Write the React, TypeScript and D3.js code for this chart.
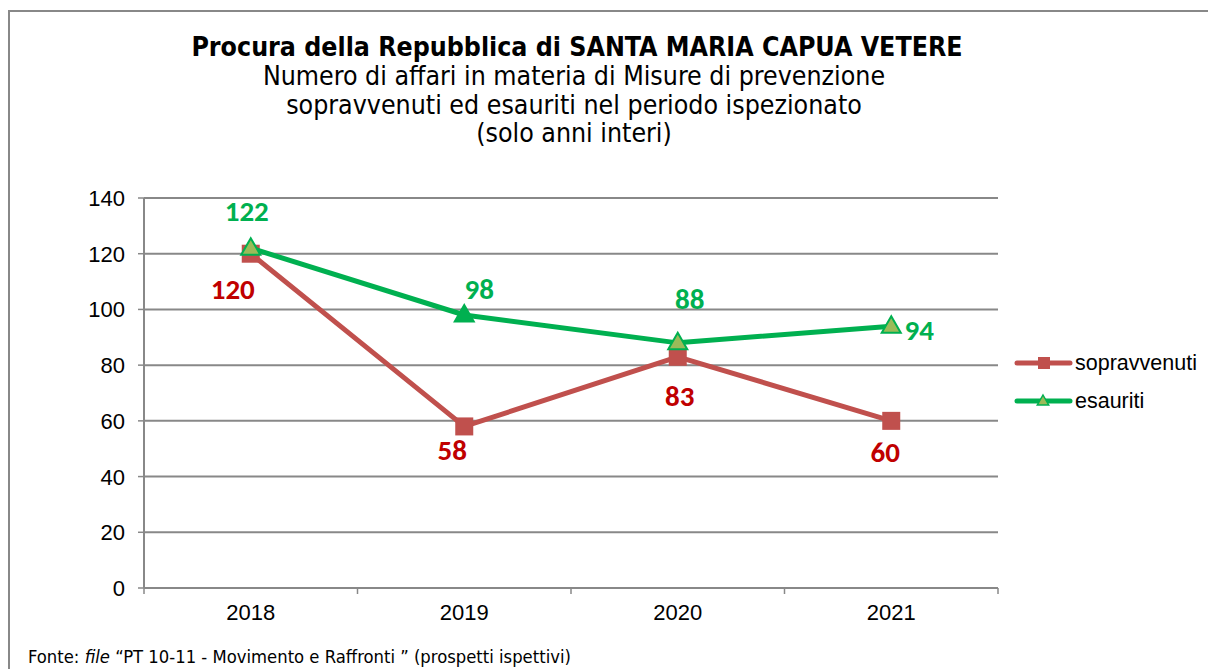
import React from "react";
import * as d3 from "d3";

const years = ["2018", "2019", "2020", "2021"];
const sopravvenuti = [120, 58, 83, 60];
const esauriti = [122, 98, 88, 94];
const yTicks = [0, 20, 40, 60, 80, 100, 120, 140];

const RED = "#C0504D";
const RED_LABEL = "#C00000";
const GREEN = "#00B050";
const OLIVE = "#9BBB59";

// label offsets (dx, dy) relative to the point, per series
const redLabelOff: [number, number][] = [
  [-18, 45],
  [-12, 34],
  [2, 49],
  [-6, 41],
];
const greenLabelOff: [number, number][] = [
  [-4, -27],
  [15, -16],
  [12, -34],
  [28, 14],
];
const greenSolid = [false, true, false, false];

export default function App() {
  const W = 1208;
  const H = 669;
  const x0 = 144;
  const x1 = 998;
  const y = d3.scaleLinear().domain([0, 140]).range([588, 198]);
  const xb = d3.scaleBand().domain(years).range([x0, x1]);
  const cx = (d: string) => (xb(d) as number) + xb.bandwidth() / 2;
  const line = d3
    .line<number>()
    .x((_, i) => cx(years[i]))
    .y((v) => y(v));
  const tri = (px: number, py: number, s: number) =>
    `M${px},${py - s}L${px + s * 0.95},${py + s * 0.65}L${px - s * 0.95},${py + s * 0.65}Z`;

  const font = "'DejaVu Sans Condensed', 'DejaVu Sans', sans-serif";
  const arial = "'Liberation Sans', Arial, sans-serif";
  const labelFont = "Carlito, 'Open Sans', 'Liberation Sans', sans-serif";

  return (
    <svg
      width={W}
      height={H}
      style={{ position: "absolute", left: 0, top: 0 }}
      viewBox={`0 0 ${W} ${H}`}
    >
      <rect x={0} y={0} width={W} height={H} fill="#fff" />
      <line x1={9} y1={11} x2={W} y2={11} stroke="#888" strokeWidth={2} />
      <line x1={9} y1={10} x2={9} y2={H} stroke="#888" strokeWidth={2} />

      <text x={577} y={56} textAnchor="middle" fontFamily={font} fontWeight="bold" fontSize={26.5} fill="#000">
        Procura della Repubblica di SANTA MARIA CAPUA VETERE
      </text>
      {[
        "Numero di affari in materia di Misure di prevenzione",
        "sopravvenuti ed esauriti nel periodo ispezionato",
        "(solo anni interi)",
      ].map((t, i) => (
        <text key={i} x={574} y={85 + i * 28.5} textAnchor="middle" fontFamily={font} fontSize={26.5} fill="#000">
          {t}
        </text>
      ))}

      {yTicks.map((t) => (
        <g key={t}>
          <line x1={x0} x2={x1} y1={y(t)} y2={y(t)} stroke="#888" strokeWidth={2} />
          <line x1={x0 - 6} x2={x0} y1={y(t)} y2={y(t)} stroke="#888" strokeWidth={1.5} />
          <text x={125} y={y(t) + 8} textAnchor="end" fontFamily={arial} fontSize={22} fill="#000">
            {t}
          </text>
        </g>
      ))}
      <line x1={x0} x2={x0} y1={198} y2={588} stroke="#888" strokeWidth={2} />
      {[0, 1, 2, 3, 4].map((i) => {
        const xx = x0 + i * xb.bandwidth();
        return <line key={i} x1={xx} x2={xx} y1={588} y2={594} stroke="#888" strokeWidth={1.5} />;
      })}
      {years.map((yr) => (
        <text key={yr} x={cx(yr)} y={620} textAnchor="middle" fontFamily={arial} fontSize={22} fill="#000">
          {yr}
        </text>
      ))}

      <path d={line(sopravvenuti) || ""} fill="none" stroke={RED} strokeWidth={5} strokeLinejoin="round" />
      {sopravvenuti.map((v, i) => (
        <rect key={i} x={cx(years[i]) - 9} y={y(v) - 9} width={18} height={18} fill={RED} />
      ))}
      <path d={line(esauriti) || ""} fill="none" stroke={GREEN} strokeWidth={5} strokeLinejoin="round" />
      {esauriti.map((v, i) => (
        <path
          key={i}
          d={tri(cx(years[i]), y(v), 10)}
          fill={greenSolid[i] ? GREEN : OLIVE}
          stroke={GREEN}
          strokeWidth={2}
        />
      ))}

      {sopravvenuti.map((v, i) => (
        <text
          key={i}
          x={cx(years[i]) + redLabelOff[i][0]}
          y={y(v) + redLabelOff[i][1]}
          textAnchor="middle"
          fontFamily={labelFont}
          fontWeight="bold"
          fontSize={29}
          fill={RED_LABEL}
        >
          {v}
        </text>
      ))}
      {esauriti.map((v, i) => (
        <text
          key={i}
          x={cx(years[i]) + greenLabelOff[i][0]}
          y={y(v) + greenLabelOff[i][1]}
          textAnchor="middle"
          fontFamily={labelFont}
          fontWeight="bold"
          fontSize={29}
          fill={GREEN}
        >
          {v}
        </text>
      ))}

      <line x1={1017} x2={1070} y1={363} y2={363} stroke={RED} strokeWidth={5} strokeLinecap="round" />
      <rect x={1038} y={357} width={12} height={12} fill={RED} />
      <text x={1075} y={370} fontFamily={arial} fontSize={21.5} fill="#000">
        sopravvenuti
      </text>
      <line x1={1017} x2={1070} y1={401} y2={401} stroke={GREEN} strokeWidth={5} strokeLinecap="round" />
      <path d={tri(1043, 401, 6)} fill={OLIVE} stroke={GREEN} strokeWidth={1.5} />
      <text x={1075} y={408} fontFamily={arial} fontSize={21.5} fill="#000">
        esauriti
      </text>

      <text x={28} y={663} fontFamily={font} fontSize={18.3} fill="#000">
        Fonte: <tspan fontStyle="italic">file</tspan> {"\u201CPT  10-11 - Movimento e Raffronti \u201D (prospetti ispettivi)"}
      </text>
    </svg>
  );
}
